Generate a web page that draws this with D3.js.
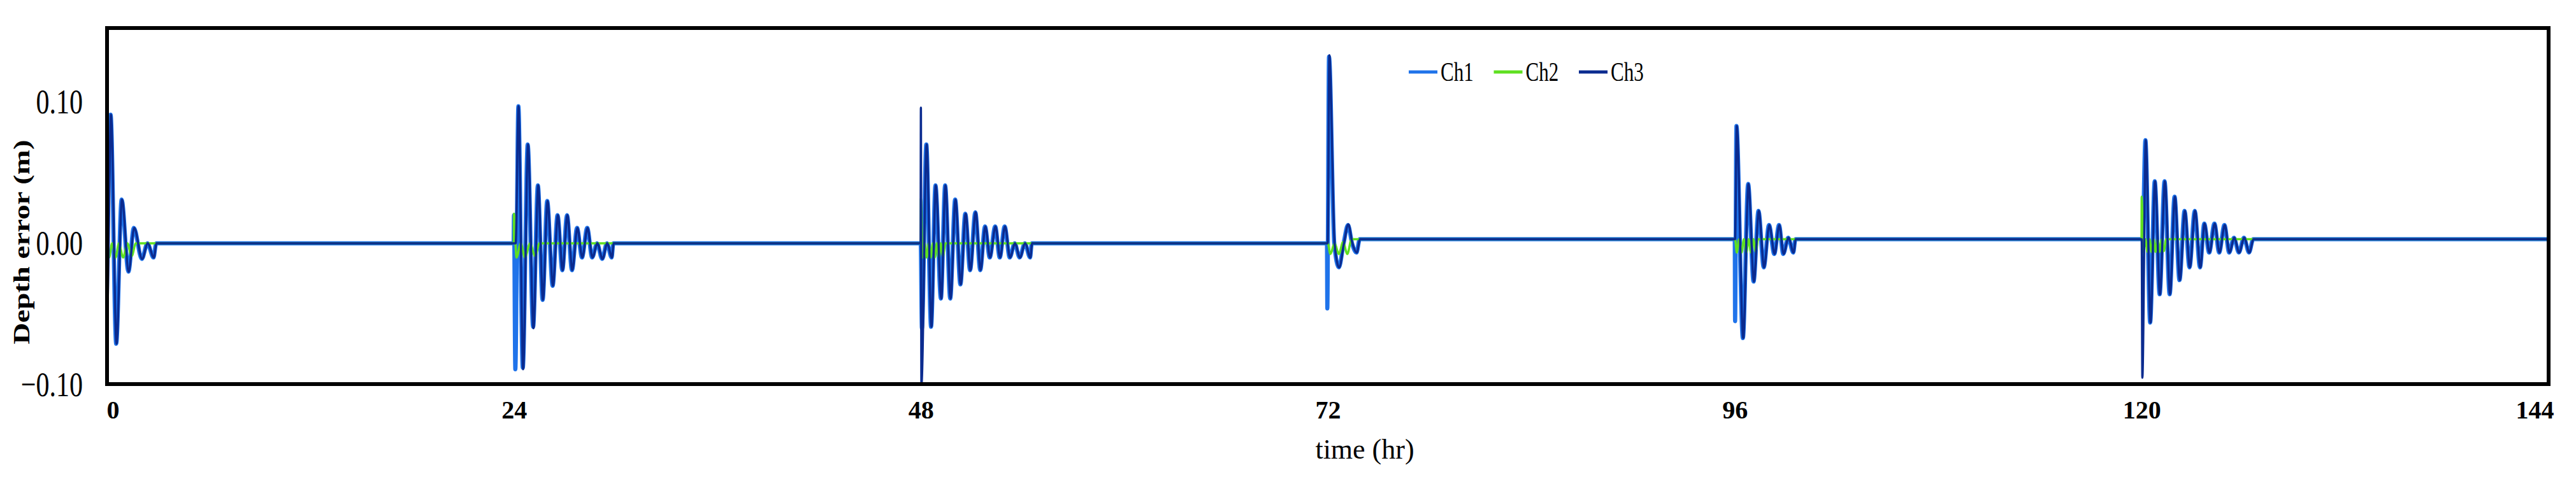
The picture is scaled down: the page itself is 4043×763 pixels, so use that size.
<!doctype html>
<html lang="en">
<head>
  <meta charset="utf-8">
  <title>Depth error</title>
  <style>
  body { margin: 0; background: #fff; }
  svg { display: block; background: #fff; }
  .tick text { fill: #000; }
  </style>
</head>
<body>
  <div id="chart"></div>
  <script src="https://cdn.jsdelivr.net/npm/d3@7/dist/d3.min.js"></script>
  <script>
    // values: [time (hr), depth error (m)]
    var ch1 = [
      [0, 0], [0.01, 0.02], [0.21, 0.091], [0.54, -0.071], [0.86, 0.031], [1.26, -0.020], [1.58, 0.011],
      [2.05, -0.011], [2.38, 0.0], [2.74, -0.010], [2.9, 0],
      [23.98, 0], [24.0, 0.02], [24.08, -0.089], [24.26, 0.097], [24.52, -0.088], [24.81, 0.070], [25.13, -0.059],
      [25.41, 0.041], [25.69, -0.040], [25.96, 0.030], [26.28, -0.030], [26.57, 0.020], [26.85, -0.019],
      [27.13, 0.020], [27.42, -0.019], [27.72, 0.011], [28.01, -0.010], [28.32, 0.011], [28.61, -0.010],
      [28.9, 0.0], [29.2, -0.011], [29.48, 0.0], [29.76, -0.010], [29.86, 0],
      [47.99, 0], [48.06, -0.060], [48.32, 0.070], [48.6, -0.059], [48.86, 0.041], [49.18, -0.039], [49.43, 0.041],
      [49.73, -0.039], [50.02, 0.031], [50.33, -0.029], [50.62, 0.021], [50.9, -0.019], [51.21, 0.022],
      [51.5, -0.019], [51.78, 0.012], [52.06, -0.010], [52.38, 0.012], [52.65, -0.010], [52.94, 0.012],
      [53.24, -0.010], [53.53, 0.0], [53.82, -0.010], [54.13, 0.0], [54.44, -0.010], [54.54, 0],
      [71.95, 0], [71.97, -0.046], [72.07, 0.132], [72.38, 0.0], [72.65, -0.017], [72.93, 0.0], [73.19, 0.013],
      [73.43, 0.0], [73.69, -0.0065], [73.88, 0.003],
      [96.0, 0.003], [96.02, -0.055], [96.1, 0.083], [96.48, -0.067], [96.79, 0.042], [97.11, -0.027],
      [97.4, 0.023], [97.71, -0.017], [98.02, 0.013], [98.33, -0.0075], [98.61, 0.013], [98.86, -0.0075],
      [99.15, 0.004], [99.45, -0.0065], [99.58, 0.003],
      [120.05, 0.003], [120.22, 0.073], [120.5, -0.056], [120.77, 0.044], [121.06, -0.036], [121.35, 0.044],
      [121.65, -0.036], [121.94, 0.033], [122.23, -0.026], [122.53, 0.023], [122.82, -0.017], [123.13, 0.023],
      [123.44, -0.017], [123.69, 0.014], [123.98, -0.0065], [124.29, 0.014], [124.57, -0.0065], [124.88, 0.013],
      [125.16, -0.0065], [125.44, 0.004], [125.73, -0.0065], [126.03, 0.004], [126.33, -0.0065], [126.58, 0.003],
      [144, 0.003]
    ];

    var ch2 = [
      [0, 0.02], [0.12, -0.010], [0.3, 0.0], [0.5, -0.010], [0.7, 0.0], [0.95, -0.010], [1.2, 0.0],
      [1.45, -0.009], [1.7, 0],
      [23.99, 0], [24.0, 0.021], [24.15, -0.010], [24.4, 0.0], [24.65, -0.010], [24.95, 0.0], [25.25, -0.009], [25.5, 0],
      [47.99, 0], [48.0, 0.032], [48.1, -0.010], [48.22, 0.0], [48.34, -0.010], [48.46, 0.0], [48.58, -0.010],
      [48.7, 0.0], [48.82, -0.010], [48.94, 0.0], [49.06, -0.010], [49.18, 0.0], [49.3, -0.009], [49.45, 0],
      [72.0, 0], [72.15, -0.0075], [72.4, 0.0], [72.65, -0.0075], [72.9, 0.001], [73.15, -0.0075], [73.4, 0.003],
      [96.02, 0.003], [96.12, -0.0065], [96.26, 0.003], [96.4, -0.0065], [96.54, 0.003], [96.68, -0.0065],
      [96.82, 0.003], [96.96, -0.0065], [97.1, 0.003], [97.24, -0.006], [97.38, 0.003],
      [119.99, 0.003], [120.0, 0.033], [120.1, -0.006], [120.22, 0.003], [120.34, -0.006], [120.46, 0.003],
      [120.58, -0.006], [120.7, 0.003], [120.82, -0.006], [120.94, 0.003], [121.06, -0.006], [121.18, 0.003],
      [121.3, -0.0055], [121.45, 0.003],
      [144, 0.003]
    ];

    var ch3 = [
      [0, 0.096], [0.02, -0.043], [0.23, 0.091], [0.56, -0.071], [0.88, 0.031], [1.28, -0.020], [1.6, 0.011],
      [2.07, -0.011], [2.4, 0.0], [2.76, -0.010], [2.92, 0],
      [24.1, 0], [24.27, 0.097], [24.54, -0.089], [24.83, 0.070], [25.15, -0.060], [25.43, 0.041], [25.71, -0.040],
      [25.98, 0.030], [26.3, -0.030], [26.59, 0.020], [26.87, -0.019], [27.15, 0.020], [27.44, -0.019],
      [27.74, 0.011], [28.03, -0.010], [28.34, 0.011], [28.63, -0.010], [28.92, 0.0], [29.22, -0.011],
      [29.5, 0.0], [29.78, -0.010], [29.88, 0],
      [47.98, 0], [48.0, 0.096], [48.03, -0.10], [48.34, 0.070], [48.62, -0.059], [48.88, 0.041], [49.2, -0.039],
      [49.45, 0.041], [49.75, -0.039], [50.04, 0.031], [50.35, -0.029], [50.64, 0.021], [50.92, -0.019],
      [51.23, 0.022], [51.52, -0.019], [51.8, 0.012], [52.08, -0.010], [52.4, 0.012], [52.67, -0.010],
      [52.96, 0.012], [53.26, -0.010], [53.55, 0.0], [53.84, -0.010], [54.15, 0.0], [54.46, -0.010], [54.56, 0],
      [71.99, 0], [72.09, 0.133], [72.4, 0.0], [72.67, -0.017], [72.95, 0.0], [73.21, 0.0135], [73.45, 0.0],
      [73.71, -0.0065], [73.9, 0.003],
      [96.02, 0.003], [96.12, 0.083], [96.5, -0.067], [96.81, 0.042], [97.13, -0.027], [97.42, 0.023],
      [97.73, -0.017], [98.04, 0.013], [98.35, -0.0075], [98.63, 0.013], [98.88, -0.0075], [99.17, 0.004],
      [99.47, -0.0065], [99.6, 0.003],
      [120.0, 0.003], [120.04, -0.095], [120.24, 0.073], [120.52, -0.056], [120.79, 0.044], [121.08, -0.036],
      [121.37, 0.044], [121.67, -0.036], [121.96, 0.033], [122.25, -0.026], [122.55, 0.023], [122.84, -0.017],
      [123.15, 0.023], [123.46, -0.017], [123.71, 0.014], [124.0, -0.0065], [124.31, 0.014], [124.59, -0.0065],
      [124.9, 0.013], [125.18, -0.0065], [125.46, 0.004], [125.75, -0.0065], [126.05, 0.004], [126.35, -0.0065],
      [126.6, 0.003],
      [144, 0.003]
    ];

    var seriesNames = ["Ch1", "Ch2", "Ch3"];
    var xTicks = [0, 24, 48, 72, 96, 120, 144];
    var yTicks = [-0.10, 0.00, 0.10];

    (function(){
      var width = 4043, height = 763;
      var left = 168, right = 4000, top = 44, bottom = 603;
      var serif = "'Liberation Serif', 'DejaVu Serif', serif";
      var colors = {Ch1: "#1f73ea", Ch2: "#5fe020", Ch3: "#0b2b8f"};
      // light trace is drawn wide underneath the dark one, as in the figure
      var widths = {Ch1: 6.5, Ch2: 3.5, Ch3: 3.5};

      var x = d3.scaleLinear().domain([0, 144]).range([left, right]);
      var y = d3.scaleLinear().domain([-0.0995, 0.1523]).range([bottom, top]);

      var svg = d3.select("#chart").append("svg")
          .attr("width", width)
          .attr("height", height);

      svg.append("clipPath").attr("id", "plot")
        .append("rect")
          .attr("x", left).attr("y", top)
          .attr("width", right - left).attr("height", bottom - top);

      var line = d3.line()
          .x(function(d) { return x(d[0]); })
          .y(function(d) { return y(d[1]); })
          .curve(d3.curveMonotoneX);

      var data = {Ch1: ch1, Ch2: ch2, Ch3: ch3};
      var lines = svg.append("g").attr("clip-path", "url(#plot)");
      seriesNames.forEach(function(name) {
        lines.append("path")
          .datum(data[name])
          .attr("fill", "none")
          .attr("stroke", colors[name])
          .attr("stroke-width", widths[name])
          .attr("stroke-linejoin", "round")
          .attr("d", line);
      });

      // frame
      svg.append("rect")
        .attr("x", left).attr("y", top)
        .attr("width", right - left).attr("height", bottom - top)
        .attr("fill", "none")
        .attr("stroke", "#000")
        .attr("stroke-width", 6);

      // y axis
      var yAxis = svg.append("g")
          .attr("transform", "translate(" + left + ",0)")
          .call(d3.axisLeft(y).tickValues(yTicks).tickSize(0).tickPadding(38).tickFormat(d3.format(".2f")));
      yAxis.select(".domain").remove();
      yAxis.selectAll("text")
        .attr("font-family", serif)
        .attr("font-size", 42)
        .attr("transform", "scale(1,1.3)");

      // x axis
      var xAxis = svg.append("g")
          .attr("transform", "translate(0," + bottom + ")")
          .call(d3.axisBottom(x).tickValues(xTicks).tickSize(0).tickPadding(26));
      xAxis.select(".domain").remove();
      xAxis.selectAll("text")
        .attr("font-family", serif)
        .attr("font-size", 40)
        .attr("font-weight", "bold")
        .attr("dx", function(d) { return d === 0 ? 9 : d === 144 ? -22 : 0; });

      svg.append("text")
        .attr("x", 2142).attr("y", 720)
        .attr("text-anchor", "middle")
        .attr("font-family", serif)
        .attr("font-size", 44)
        .text("time (hr)");

      svg.append("text")
        .attr("transform", "translate(46,380) rotate(-90)")
        .attr("text-anchor", "middle")
        .attr("font-family", serif)
        .attr("font-size", 36)
        .attr("font-weight", "bold")
        .attr("textLength", 321)
        .attr("lengthAdjust", "spacingAndGlyphs")
        .text("Depth error (m)");

      // legend
      var legend = svg.append("g").selectAll("g")
          .data(seriesNames)
          .enter().append("g")
          .attr("transform", function(d, i) { return "translate(" + (2211 + i * 133.5) + ",113)"; });
      legend.append("line")
        .attr("x1", 0).attr("x2", 45)
        .attr("stroke", function(d) { return colors[d]; })
        .attr("stroke-width", 5);
      legend.append("text")
        .attr("transform", "translate(50,14) scale(1,1.37)")
        .attr("font-family", serif)
        .attr("font-size", 31)
        .text(function(d) { return d; });
    })();
  </script>
</body>
</html>
